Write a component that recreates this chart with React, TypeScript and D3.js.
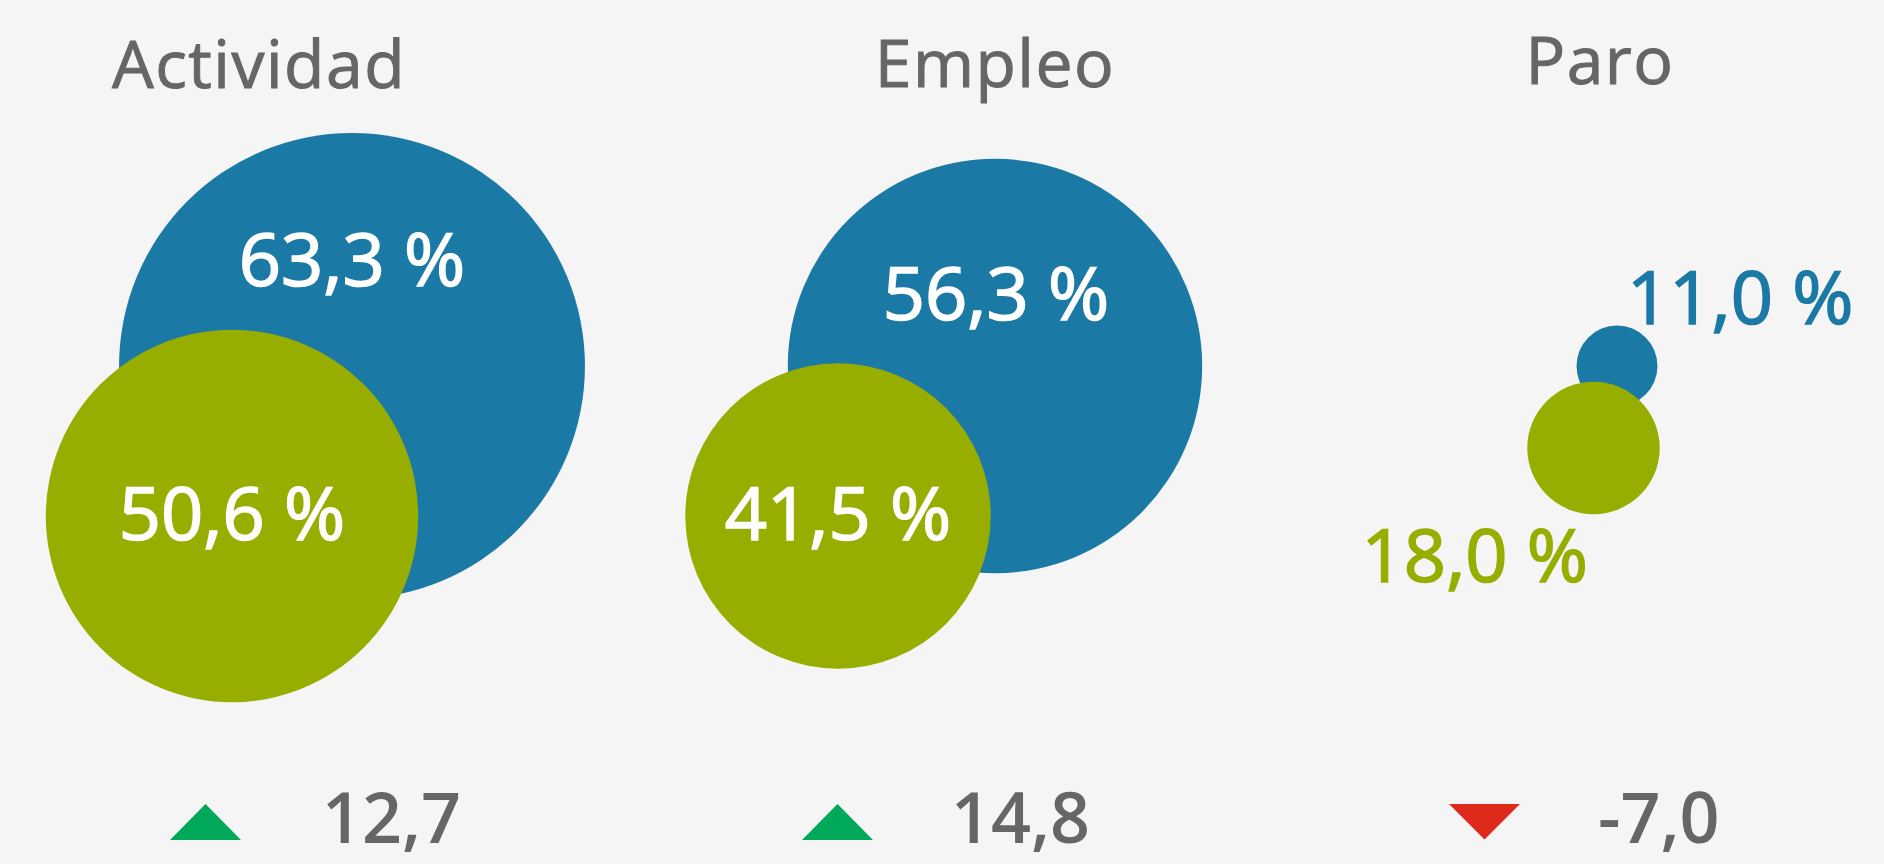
import React, { useEffect } from "react";
import * as d3 from "d3";

// ---- data ----
const categories = ["Actividad", "Empleo", "Paro"];
const seriesBlue = [63.3, 56.3, 11.0];
const seriesGreen = [50.6, 41.5, 18.0];
const changes = [12.7, 14.8, -7.0];

// ---- layout (positions only) ----
const W = 1884;
const H = 864;
const BLUE = "#1b79a6";
const GREEN = "#97ad00";
const GRAY = "#666666";
const UP = "#00a85a";
const DOWN = "#dd2a1b";
const FONT = "'Open Sans', sans-serif";

const groupLayout = [
  { titleX: 259, titleY: 88, bx: 352, by: 366, gx: 232, gy: 516, blueLabel: { x: 352, y: 286, anchor: "middle" }, greenLabel: { x: 232, y: 540, anchor: "middle" }, blueLabelColor: "#fff", greenLabelColor: "#fff", triX: 205.5, numX: 322 },
  { titleX: 995, titleY: 87, bx: 995, by: 366, gx: 838, gy: 516, blueLabel: { x: 996, y: 320, anchor: "middle" }, greenLabel: { x: 838, y: 540, anchor: "middle" }, blueLabelColor: "#fff", greenLabelColor: "#fff", triX: 837.5, numX: 951 },
  { titleX: 1600, titleY: 84, bx: 1617, by: 366, gx: 1593.5, gy: 448, blueLabel: { x: 1627, y: 324, anchor: "start" }, greenLabel: { x: 1588, y: 582, anchor: "end" }, blueLabelColor: BLUE, greenLabelColor: GREEN, triX: 1484.5, numX: 1598 },
];

const fmt = (v: number) => v.toFixed(1).replace(".", ",");

export default function App() {
  useEffect(() => {
    document.body.style.margin = "0";
    document.body.style.background = "#f5f5f5";
  }, []);

  const r = d3.scaleLinear().domain([0, 100]).range([0, 368]);
  const triUp = d3.line()([[-35.5, 36], [0, 0], [35.5, 36]]) + "Z";
  const triDown = d3.line()([[-35.5, 0], [35.5, 0], [0, 35.5]]) + "Z";

  return (
    <svg width={W} height={H} style={{ display: "block" }}>
      <rect x={0} y={0} width={W} height={H} fill="#f5f5f5" />
      {categories.map((cat, i) => {
        const L = groupLayout[i];
        const ch = changes[i];
        return (
          <g key={cat}>
            <text x={L.titleX} y={L.titleY} textAnchor="middle" fontFamily={FONT} fontSize={66} fill={GRAY} stroke={GRAY} strokeWidth={1} letterSpacing={1.5}>
              {cat}
            </text>
            <circle cx={L.bx} cy={L.by} r={r(seriesBlue[i])} fill={BLUE} />
            <circle cx={L.gx} cy={L.gy} r={r(seriesGreen[i])} fill={GREEN} />
            <text x={L.blueLabel.x} y={L.blueLabel.y} textAnchor={L.blueLabel.anchor as any} fontFamily={FONT} fontSize={74} fill={L.blueLabelColor} stroke={L.blueLabelColor} strokeWidth={1.6}>
              {fmt(seriesBlue[i]) + " %"}
            </text>
            <text x={L.greenLabel.x} y={L.greenLabel.y} textAnchor={L.greenLabel.anchor as any} fontFamily={FONT} fontSize={74} fill={L.greenLabelColor} stroke={L.greenLabelColor} strokeWidth={1.6}>
              {fmt(seriesGreen[i]) + " %"}
            </text>
            <path d={ch >= 0 ? triUp : triDown} transform={`translate(${L.triX},804)`} fill={ch >= 0 ? UP : DOWN} />
            <text x={L.numX} y={843} fontFamily={FONT} fontSize={70} fontWeight={600} fill={GRAY}>
              {fmt(ch)}
            </text>
          </g>
        );
      })}
    </svg>
  );
}
